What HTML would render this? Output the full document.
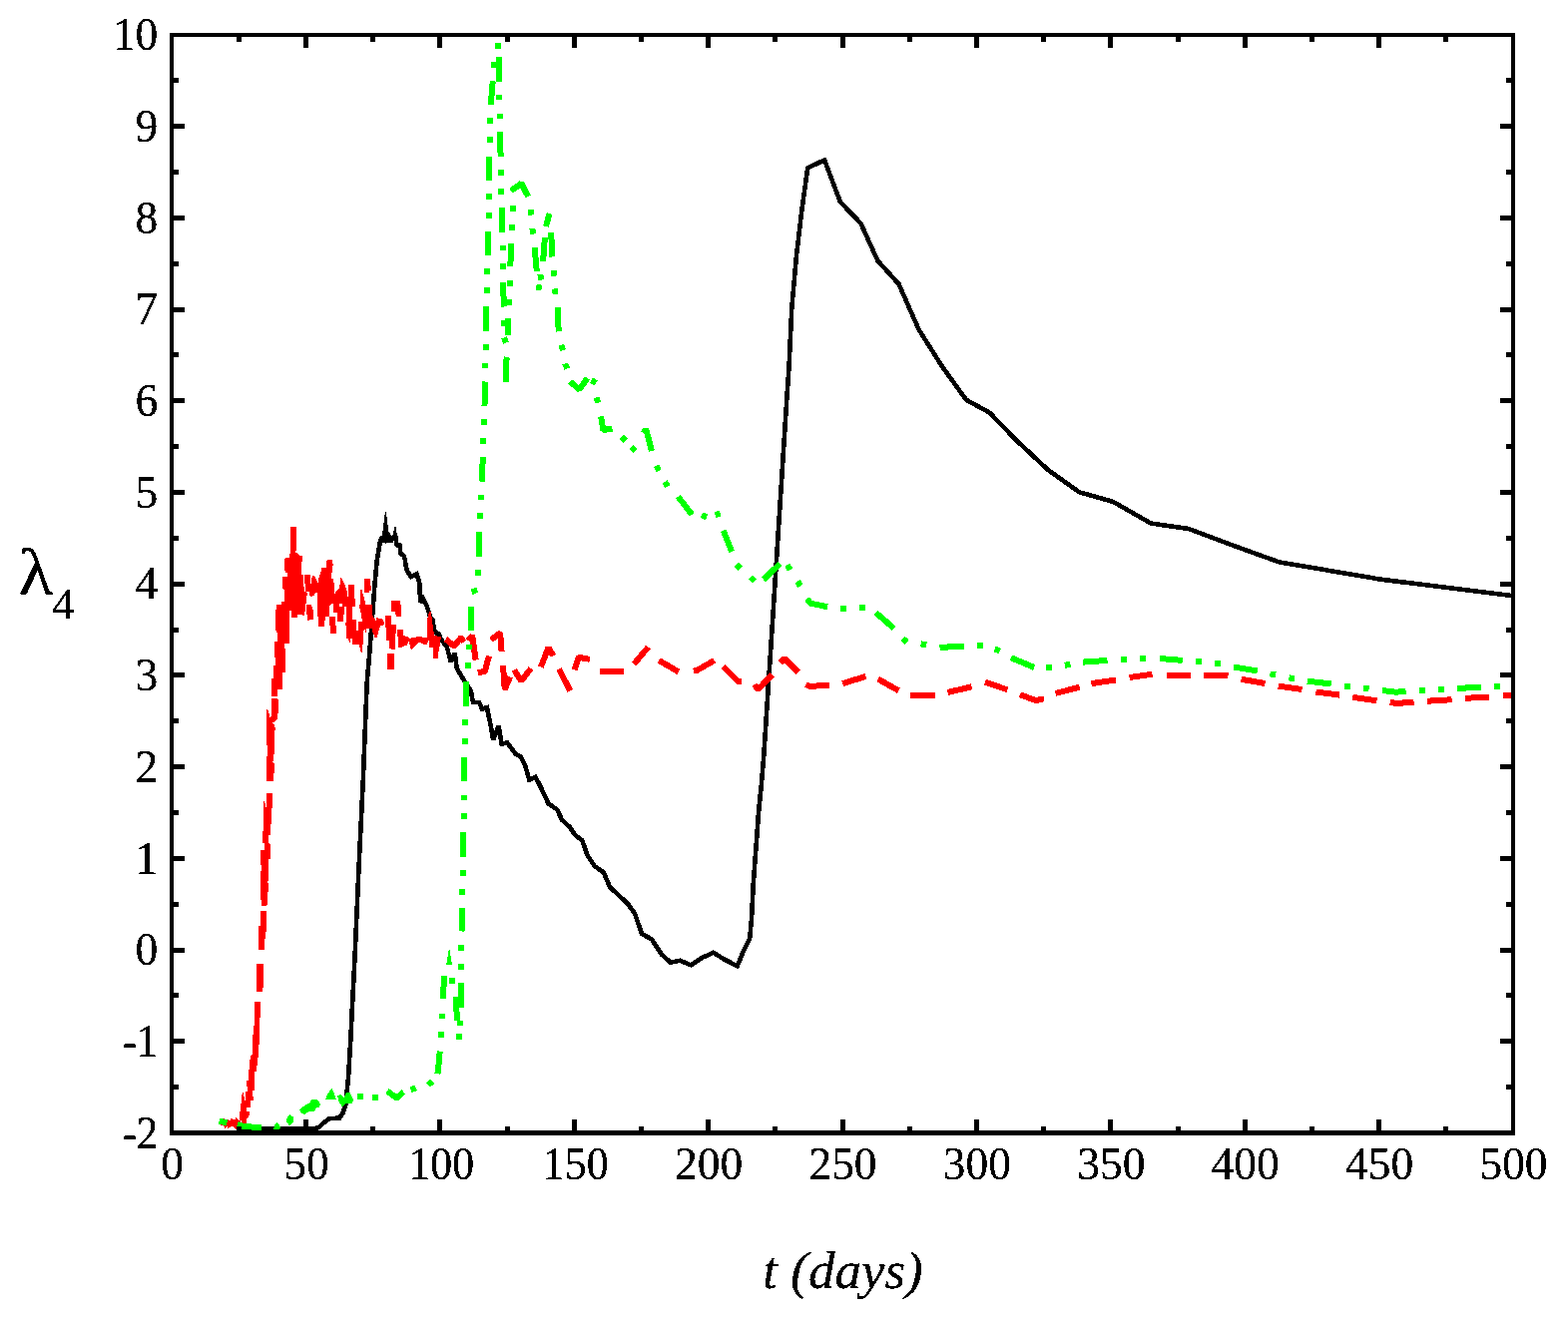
<!DOCTYPE html>
<html><head><meta charset="utf-8"><title>lambda4 vs t</title>
<style>
html,body{margin:0;padding:0;background:#fff;}
body{width:1571px;height:1321px;overflow:hidden;}
svg{display:block;}
text{font-family:"Liberation Serif","DejaVu Serif",serif;fill:#000;}
.tick{font-size:46.6px;}
</style></head><body>
<svg width="1571" height="1321" viewBox="0 0 1571 1321">
<rect x="0" y="0" width="1571" height="1321" fill="#fff"/>
<g shape-rendering="crispEdges" stroke-linejoin="miter" stroke-linecap="butt">
<polygon points="382.8,538.0 385.9,513.0 386.9,513.0 389.2,532.0 392.5,537.5" fill="#000" stroke="none"/>
<polygon points="393.0,538.0 395.6,528.0 396.6,528.0 398.4,539.0" fill="#000" stroke="none"/>
<polygon points="385.3,542.0 386.7,545.2 388.1,542.0" fill="#000" stroke="none"/>
<polygon points="389.8,542.0 391.2,545.2 392.6,542.0" fill="#000" stroke="none"/>
<polygon points="381.0,537.0 394.0,537.0 394.0,543.5 381.0,543.5" fill="#000" stroke="none"/>
<polyline points="242.0,1131.0 316.0,1131.0 320.0,1129.5 324.2,1125.4 330.2,1121.0 340.0,1120.7 343.5,1115.4 346.3,1107.0 347.7,1093.0 349.1,1079.0 351.2,1044.0 353.3,1002.0 355.4,962.0 359.5,870.0 363.8,782.0 367.7,684.0 370.3,654.0 372.0,632.0 374.0,606.0 375.6,584.0 377.5,563.7 379.5,550.9 380.6,544.0 382.0,540.3 393.0,540.3 396.6,539.5 397.2,545.8 399.5,547.1 400.8,545.0 401.2,554.0 404.9,557.6 405.8,561.1 407.1,569.4 408.7,573.2 411.9,578.0 415.4,576.4 417.6,575.4 418.9,579.6 420.2,584.0 420.8,595.5 421.6,604.0 424.0,600.0 427.5,607.0 431.2,618.4 433.4,620.9 434.4,627.3 435.3,632.4 438.2,635.2 440.1,635.6 441.4,640.0 448.0,649.0 451.5,663.0 455.7,654.6 457.8,670.0 466.2,684.0 471.8,692.4 473.9,703.6 480.2,704.3 483.0,710.6 487.9,709.2 491.4,726.0 494.2,741.5 499.5,727.5 502.6,745.7 508.2,744.3 516.6,755.5 522.2,759.0 526.4,768.0 530.3,781.6 536.5,778.9 541.2,787.7 549.4,805.4 558.3,811.6 563.0,821.8 570.7,828.8 576.1,836.8 583.2,842.2 588.6,857.4 595.7,868.1 604.7,874.4 610.9,888.7 619.0,896.7 628.8,905.6 635.9,915.5 643.1,936.0 652.9,941.4 662.8,956.6 671.7,964.6 681.5,962.8 692.2,967.3 703.0,960.1 714.6,954.8 726.2,961.9 738.7,968.2 745.0,953.0 751.2,940.5 753.0,920.8 754.8,885.1 757.5,849.3 760.1,813.6 762.8,786.8 765.1,760.0 775.5,600.0 788.3,400.0 790.6,366.0 793.3,308.7 798.1,255.1 803.4,210.4 809.2,168.4 826.1,160.4 841.9,202.4 862.4,223.8 879.4,261.3 900.5,284.6 920.5,330.1 943.5,366.6 968.0,400.7 991.5,413.6 1018.1,441.1 1049.8,470.8 1081.4,493.3 1115.1,502.9 1152.9,524.5 1190.7,530.0 1240.0,548.4 1281.3,563.3 1383.5,580.7 1516.0,597.2" fill="none" stroke="#000000" stroke-width="4.60" stroke-miterlimit="2.5"/>
<polygon points="219.0,1126.2 220.7,1123.7 223.2,1121.7 224.8,1121.3 227.3,1122.1 230.6,1122.9 231.9,1120.0 233.1,1121.7 234.8,1122.5 236.8,1120.0 238.1,1121.3 239.7,1122.9 240.1,1122.1 240.1,1114.6 241.0,1113.8 241.1,1106.4 242.2,1104.7 242.2,1098.1 243.5,1095.2 243.9,1098.1 245.1,1100.6 245.1,1103.9 245.9,1103.0 246.4,1094.4 248.0,1093.5 248.0,1089.0 247.0,1088.6 247.2,1083.2 249.3,1082.4 249.3,1072.4 250.2,1071.6 250.2,1062.5 251.7,1060.0 257.9,1060.0 257.9,1067.9 257.0,1068.3 257.0,1073.7 255.0,1074.1 255.0,1092.7 253.1,1093.1 253.1,1098.9 254.0,1099.3 254.0,1102.6 251.2,1103.0 250.9,1109.7 247.2,1110.1 247.2,1113.8 249.7,1114.2 250.1,1117.1 248.0,1120.4 247.2,1121.3 247.2,1126.6 244.7,1127.1 243.0,1125.4 241.4,1123.3 240.6,1125.4 238.9,1128.7 237.3,1129.1 236.8,1132.0 234.8,1130.4 233.1,1129.1 230.6,1129.5 228.6,1130.8 227.3,1129.1 225.7,1131.2 224.0,1128.7 221.1,1127.5" fill="#ff0000" stroke="none"/>
<polygon points="255.3,1004.1 260.9,1004.1 260.9,1018.8 260.2,1020.2 260.2,1046.8 258.8,1048.2 258.8,1060.1 251.1,1060.1 251.1,1058.0 252.5,1056.6 253.9,1030.0 254.6,1027.2" fill="#ff0000" stroke="none"/>
<polygon points="257.4,965.6 263.7,965.6 263.7,989.4 262.7,994.3 257.4,994.3 257.4,974.0" fill="#ff0000" stroke="none"/>
<polygon points="259.0,951.6 259.0,928.5 261.1,927.8 261.1,913.1 267.1,913.1 267.1,931.3 265.7,936.9 265.0,951.6" fill="#ff0000" stroke="none"/>
<polygon points="262.2,907.5 261.1,899.0 261.1,875.2 262.2,868.2 261.1,866.8 261.1,852.1 265.0,852.1 265.0,845.8 262.9,844.4 262.9,833.2 264.3,832.5 264.3,803.1 265.0,803.1 266.7,810.1 267.1,795.4 273.0,795.4 273.0,809.4 272.0,810.1 272.0,825.5 271.0,826.2 271.0,836.7 269.2,837.4 269.2,845.1 271.0,846.5 271.0,860.5 269.2,861.2 269.2,882.9 268.1,883.6 269.2,887.8 269.2,893.4 268.1,894.1 268.1,906.8 267.1,907.5" fill="#ff0000" stroke="none"/>
<polygon points="267.1,780.0 274.1,780.0 274.1,782.8 267.1,782.8" fill="#ff0000" stroke="none"/>
<polygon points="267.1,782.1 267.1,758.3 268.1,756.9 267.1,740.1 267.1,711.3 268.5,712.0 270.6,719.0 272.0,717.6 272.0,700.1 278.3,700.1 279.0,703.6 278.3,720.4 273.4,724.6 275.1,726.8 276.2,731.7 275.1,732.4 275.1,751.3 273.4,763.9 275.1,765.3 275.1,773.7 274.1,775.1 274.1,782.1" fill="#ff0000" stroke="none"/>
<polygon points="272.0,698.0 272.0,684.0 283.2,684.0 283.2,691.0 278.3,691.0 278.3,698.0" fill="#ff0000" stroke="none"/>
<polygon points="271.9,684.0 271.9,679.9 274.0,679.9 274.0,666.8 276.0,666.8 276.0,658.9 275.0,658.9 275.0,643.0 278.1,643.0 278.1,634.1 276.9,633.7 276.0,629.9 276.0,611.1 276.9,610.8 276.9,606.0 282.0,606.0 282.0,604.1 283.0,602.9 285.1,602.9 285.1,600.0 284.9,602.7 284.9,591.9 283.0,590.0 283.0,577.9 288.1,577.9 288.1,574.1 286.1,574.1 285.2,570.9 285.2,560.1 286.5,559.0 290.0,559.0 290.0,555.0 290.9,555.0 290.9,528.0 297.0,528.0 297.0,551.8 296.0,552.8 296.0,553.7 297.6,554.1 300.5,556.9 302.1,556.9 303.0,558.2 303.0,562.6 302.1,563.3 302.1,576.0 304.0,576.0 304.0,588.1 304.9,588.1 304.9,592.9 306.8,593.2 308.1,594.5 308.1,596.7 307.0,597.0 307.0,604.0 306.8,604.5 305.9,605.1 305.9,612.7 304.9,613.0 304.9,616.9 303.0,616.9 303.0,615.9 297.9,615.9 297.9,618.8 292.0,618.8 292.0,612.1 290.0,612.1 290.0,644.9 285.1,644.9 285.1,650.0 286.0,650.3 286.0,673.8 283.0,673.8 283.0,684.0" fill="#ff0000" stroke="none"/>
<polygon points="307.0,606.0 311.9,606.0 311.9,608.0 313.0,608.3 313.0,611.1 314.0,611.5 314.0,620.7 310.0,621.0 310.0,622.0 308.0,622.0 308.0,615.9 307.0,615.6" fill="#ff0000" stroke="none"/>
<polygon points="305.1,576.0 311.0,576.0 311.0,584.9 311.9,584.9 311.9,581.1 313.2,577.0 314.8,577.0 318.3,584.0 318.9,584.0 319.2,579.8 320.2,577.0 321.2,573.2 322.0,573.2 322.0,569.0 327.1,569.0 327.1,562.3 328.2,561.1 332.9,561.1 332.9,564.9 334.1,565.2 334.1,566.5 332.9,567.1 332.9,573.8 332.0,573.8 332.0,579.8 333.9,579.8 333.9,584.0 334.8,584.3 334.8,594.8 335.8,594.8 337.1,592.2 339.9,589.7 339.9,585.9 341.2,585.9 341.2,578.9 341.8,578.9 345.0,584.9 347.6,591.9 348.2,598.0 348.8,598.0 348.8,586.2 355.1,586.2 355.1,604.7 339.9,604.7 339.9,600.2 343.1,600.2 343.1,604.7 318.0,604.7 318.0,593.8 315.7,593.8 315.1,597.3 311.3,597.7 310.0,596.4 310.0,593.2 306.1,592.9 306.1,584.9 305.1,584.9" fill="#ff0000" stroke="none"/>
<polygon points="318.0,600.0 330.1,600.0 330.1,618.1 318.0,618.1" fill="#ff0000" stroke="none"/>
<polygon points="318.9,618.1 325.0,618.1 325.0,627.9 318.9,627.9" fill="#ff0000" stroke="none"/>
<polygon points="325.0,618.1 325.9,618.1 325.9,621.6 325.0,621.6" fill="#ff0000" stroke="none"/>
<polygon points="330.1,618.1 336.0,618.1 336.0,626.7 330.1,626.7" fill="#ff0000" stroke="none"/>
<polygon points="331.0,626.7 336.9,626.7 336.9,634.9 331.0,634.9" fill="#ff0000" stroke="none"/>
<polygon points="333.9,603.8 339.9,603.8 339.9,614.0 333.9,614.0" fill="#ff0000" stroke="none"/>
<polygon points="338.0,608.0 343.9,608.0 343.9,622.8 338.0,622.8" fill="#ff0000" stroke="none"/>
<polygon points="343.9,608.0 345.0,608.0 345.0,615.9 343.9,615.9" fill="#ff0000" stroke="none"/>
<polygon points="343.1,600.0 356.2,600.0 356.2,608.0 343.1,608.0" fill="#ff0000" stroke="none"/>
<polygon points="346.9,608.0 353.0,608.0 353.0,640.1 346.9,640.1" fill="#ff0000" stroke="none"/>
<polygon points="353.0,621.0 357.1,621.0 357.1,645.8 353.0,645.8" fill="#ff0000" stroke="none"/>
<polygon points="357.1,631.8 359.0,631.8 359.0,645.8 357.1,645.8" fill="#ff0000" stroke="none"/>
<polygon points="330.1,607.0 333.9,604.1 333.9,600.0 330.1,600.0" fill="#ff0000" stroke="none"/>
<polygon points="346.0,624.2 346.9,629.9 348.2,634.7 349.2,639.8 349.8,643.9 350.7,643.9 350.7,638.8 353.0,640.1 353.0,624.2" fill="#ff0000" stroke="none"/>
<polygon points="359.0,645.8 360.0,647.1 361.6,653.5 362.8,653.8 362.8,645.8" fill="#ff0000" stroke="none"/>
<polygon points="365.0,580.1 371.0,580.1 371.0,586.9 371.9,587.2 371.9,592.0 370.0,592.0 370.0,593.9 365.0,593.9" fill="#ff0000" stroke="none"/>
<polygon points="361.1,591.0 363.0,591.0 363.0,594.8 364.0,595.5 366.0,604.7 366.0,606.6 367.5,606.0 373.0,606.0 373.0,617.1 373.9,617.4 376.5,622.2 377.1,622.2 377.1,619.0 378.7,619.0 379.0,620.0 382.8,620.0 385.1,623.5 385.1,625.1 384.1,627.0 381.2,627.0 381.2,628.9 380.3,629.2 377.7,638.7 375.5,638.7 373.3,633.7 373.3,630.2 366.9,630.2 366.9,633.7 366.0,633.7 366.0,631.1 364.0,632.1 364.0,645.7 363.0,646.1 363.0,654.0 361.8,654.0 359.9,646.4 358.0,646.4 358.0,634.9 359.0,634.9 359.0,623.2 363.1,623.2 363.1,622.2 361.9,617.1 361.1,611.4 360.0,608.8 360.0,606.3 361.1,606.0" fill="#ff0000" stroke="none"/>
<polygon points="386.0,617.1 392.1,617.1 392.1,626.0 397.0,626.0 397.0,634.9 396.1,635.2 396.1,650.8 393.0,650.8 390.1,649.9 390.1,641.9 387.0,641.9 387.0,628.9 386.0,628.6" fill="#ff0000" stroke="none"/>
<polygon points="392.1,602.0 401.0,602.0 401.0,606.0 401.9,606.3 401.9,617.9 397.0,617.9 396.1,614.6 396.1,613.0 392.1,613.0" fill="#ff0000" stroke="none"/>
<polygon points="398.0,631.1 404.0,631.1 404.0,637.8 405.4,636.8 406.4,638.1 408.9,638.1 410.2,640.0 412.7,639.1 417.2,639.1 417.5,638.1 422.9,638.1 423.2,639.1 424.2,638.1 424.8,639.1 428.0,639.1 428.0,620.9 429.9,613.3 431.8,613.3 431.8,617.7 432.8,618.4 433.7,627.3 435.0,636.8 436.0,637.2 442.0,638.4 442.0,640.7 440.7,641.0 440.7,648.0 439.8,648.3 439.8,652.1 438.8,654.0 438.8,660.4 434.1,660.4 434.1,649.2 429.9,648.9 429.9,642.2 429.0,642.2 428.0,646.1 424.8,646.1 422.9,645.1 421.0,644.2 419.1,644.2 412.7,651.2 411.8,651.2 410.2,645.1 409.9,643.2 408.9,643.8 407.6,647.0 405.1,647.3 402.9,648.9 399.1,648.9 399.1,638.1 398.0,637.8" fill="#ff0000" stroke="none"/>
<polyline points="391.3,655.0 391.3,671.4" fill="none" stroke="#ff0000" stroke-width="6.50" />
<polyline points="446.6,640.6 455.0,647.6 462.0,639.2 464.8,643.4" fill="none" stroke="#ff0000" stroke-width="6.00" stroke-linejoin="bevel"/>
<polyline points="469.0,642.0 473.2,637.1 476.7,661.6" fill="none" stroke="#ff0000" stroke-width="6.00" stroke-linejoin="bevel"/>
<polyline points="478.8,674.2 485.8,672.8 490.0,657.4" fill="none" stroke="#ff0000" stroke-width="6.00" stroke-linejoin="bevel"/>
<polyline points="492.1,641.3 501.2,634.3 502.6,653.2" fill="none" stroke="#ff0000" stroke-width="6.00" stroke-linejoin="bevel"/>
<polyline points="504.0,667.2 505.7,691.0 511.0,678.4" fill="none" stroke="#ff0000" stroke-width="6.00" stroke-linejoin="bevel"/>
<polyline points="515.2,671.4 522.2,682.6 532.0,670.0" fill="none" stroke="#ff0000" stroke-width="6.00" stroke-linejoin="bevel"/>
<polyline points="541.8,668.6 549.5,649.0 554.4,657.4" fill="none" stroke="#ff0000" stroke-width="6.00" stroke-linejoin="bevel"/>
<polyline points="560.0,670.7 571.3,692.4" fill="none" stroke="#ff0000" stroke-width="6.00" stroke-linejoin="bevel"/>
<polyline points="575.5,671.4 579.7,658.8 590.9,660.9" fill="none" stroke="#ff0000" stroke-width="6.00" stroke-linejoin="bevel"/>
<polyline points="600.7,672.8 624.5,672.8" fill="none" stroke="#ff0000" stroke-width="6.00" stroke-linejoin="bevel"/>
<polyline points="635.2,665.4 649.5,648.5" fill="none" stroke="#ff0000" stroke-width="6.00" stroke-linejoin="bevel"/>
<polyline points="660.2,661.9 679.9,673.5" fill="none" stroke="#ff0000" stroke-width="6.00" stroke-linejoin="bevel"/>
<polyline points="695.0,672.6 698.6,671.7 715.6,661.9" fill="none" stroke="#ff0000" stroke-width="6.00" stroke-linejoin="bevel"/>
<polyline points="724.5,668.1 739.7,683.3 743.3,683.3" fill="none" stroke="#ff0000" stroke-width="6.00" stroke-linejoin="bevel"/>
<polyline points="755.8,686.2 759.6,690.8 773.7,676.2" fill="none" stroke="#ff0000" stroke-width="6.00" stroke-linejoin="bevel"/>
<polyline points="782.0,664.3 785.8,660.0 799.6,673.5" fill="none" stroke="#ff0000" stroke-width="6.00" stroke-linejoin="bevel"/>
<polyline points="807.6,686.0 811.2,687.8 830.9,686.9" fill="none" stroke="#ff0000" stroke-width="6.00" stroke-linejoin="bevel"/>
<polyline points="844.3,685.1 867.5,677.9" fill="none" stroke="#ff0000" stroke-width="6.00" stroke-linejoin="bevel"/>
<polyline points="879.8,680.6 900.4,692.2" fill="none" stroke="#ff0000" stroke-width="6.00" stroke-linejoin="bevel"/>
<polyline points="912.0,696.7 937.0,696.7" fill="none" stroke="#ff0000" stroke-width="6.00" stroke-linejoin="bevel"/>
<polyline points="949.5,694.0 973.6,688.3" fill="none" stroke="#ff0000" stroke-width="6.00" stroke-linejoin="bevel"/>
<polyline points="987.0,683.8 1009.4,691.3" fill="none" stroke="#ff0000" stroke-width="6.00" stroke-linejoin="bevel"/>
<polyline points="1021.9,696.2 1038.0,702.1 1046.0,700.3" fill="none" stroke="#ff0000" stroke-width="6.00" stroke-linejoin="bevel"/>
<polyline points="1057.6,694.9 1081.8,688.7" fill="none" stroke="#ff0000" stroke-width="6.00" stroke-linejoin="bevel"/>
<polyline points="1093.4,685.1 1118.0,681.5" fill="none" stroke="#ff0000" stroke-width="6.00" stroke-linejoin="bevel"/>
<polyline points="1131.5,679.0 1154.4,675.7" fill="none" stroke="#ff0000" stroke-width="6.00" stroke-linejoin="bevel"/>
<polyline points="1169.0,676.5 1193.0,676.5" fill="none" stroke="#ff0000" stroke-width="6.00" stroke-linejoin="bevel"/>
<polyline points="1206.1,676.5 1230.5,677.5" fill="none" stroke="#ff0000" stroke-width="6.00" stroke-linejoin="bevel"/>
<polyline points="1243.5,680.8 1267.6,685.0" fill="none" stroke="#ff0000" stroke-width="6.00" stroke-linejoin="bevel"/>
<polyline points="1280.7,687.6 1304.5,691.0" fill="none" stroke="#ff0000" stroke-width="6.00" stroke-linejoin="bevel"/>
<polyline points="1318.5,693.5 1342.2,696.6" fill="none" stroke="#ff0000" stroke-width="6.00" stroke-linejoin="bevel"/>
<polyline points="1355.3,698.8 1379.5,702.3" fill="none" stroke="#ff0000" stroke-width="6.00" stroke-linejoin="bevel"/>
<polyline points="1392.7,703.7 1398.8,705.0 1416.6,703.7" fill="none" stroke="#ff0000" stroke-width="6.00" stroke-linejoin="bevel"/>
<polyline points="1430.3,702.7 1454.6,701.2" fill="none" stroke="#ff0000" stroke-width="6.00" stroke-linejoin="bevel"/>
<polyline points="1468.2,699.8 1492.4,698.5" fill="none" stroke="#ff0000" stroke-width="6.00" stroke-linejoin="bevel"/>
<polyline points="1506.0,697.3 1516.0,696.8" fill="none" stroke="#ff0000" stroke-width="6.00" stroke-linejoin="bevel"/>
<polyline points="219.5,1124.0 227.5,1125.0" fill="none" stroke="#00ff00" stroke-width="6.00" stroke-linejoin="bevel"/>
<polyline points="238.0,1127.0 243.0,1128.7 262.0,1130.4" fill="none" stroke="#00ff00" stroke-width="6.00" stroke-linejoin="bevel"/>
<polyline points="388.0,1093.5 397.5,1100.5 404.4,1094.4" fill="none" stroke="#00ff00" stroke-width="6.00" stroke-linejoin="bevel"/>
<polyline points="438.4,1076.3 439.7,1065.7 440.7,1053.6" fill="none" stroke="#00ff00" stroke-width="6.00" stroke-linejoin="bevel"/>
<polyline points="443.7,1001.3 445.3,977.8" fill="none" stroke="#00ff00" stroke-width="6.00" stroke-linejoin="bevel"/>
<polyline points="456.6,999.0 458.1,1023.3" fill="none" stroke="#00ff00" stroke-width="6.00" stroke-linejoin="bevel"/>
<polyline points="461.9,1009.6 461.9,985.4" fill="none" stroke="#00ff00" stroke-width="6.00" stroke-linejoin="bevel"/>
<polyline points="463.0,910.0 462.5,933.5" fill="none" stroke="#00ff00" stroke-width="6.00" stroke-linejoin="bevel"/>
<polyline points="464.0,834.0 464.0,858.8" fill="none" stroke="#00ff00" stroke-width="6.00" stroke-linejoin="bevel"/>
<polyline points="465.0,759.0 465.0,783.0" fill="none" stroke="#00ff00" stroke-width="6.00" stroke-linejoin="bevel"/>
<polyline points="467.0,683.3 467.0,707.8" fill="none" stroke="#00ff00" stroke-width="6.00" stroke-linejoin="bevel"/>
<polyline points="471.8,608.4 471.8,632.2" fill="none" stroke="#00ff00" stroke-width="6.00" stroke-linejoin="bevel"/>
<polyline points="480.1,533.3 479.8,557.9" fill="none" stroke="#00ff00" stroke-width="6.00" stroke-linejoin="bevel"/>
<polyline points="483.8,458.1 482.8,482.6" fill="none" stroke="#00ff00" stroke-width="6.00" stroke-linejoin="bevel"/>
<polyline points="486.0,382.5 485.5,406.7" fill="none" stroke="#00ff00" stroke-width="6.00" stroke-linejoin="bevel"/>
<polyline points="487.2,307.0 487.2,332.0" fill="none" stroke="#00ff00" stroke-width="6.00" stroke-linejoin="bevel"/>
<polyline points="488.9,232.0 488.9,255.7" fill="none" stroke="#00ff00" stroke-width="6.00" stroke-linejoin="bevel"/>
<polyline points="490.0,156.6 490.0,181.0" fill="none" stroke="#00ff00" stroke-width="6.00" stroke-linejoin="bevel"/>
<polyline points="492.0,104.8 493.0,87.5 494.0,81.2" fill="none" stroke="#00ff00" stroke-width="6.00" stroke-linejoin="bevel"/>
<polyline points="499.8,57.0 499.8,81.8" fill="none" stroke="#00ff00" stroke-width="6.00" stroke-linejoin="bevel"/>
<polyline points="501.0,132.4 501.6,156.6" fill="none" stroke="#00ff00" stroke-width="6.00" stroke-linejoin="bevel"/>
<polyline points="503.0,208.0 503.0,232.7" fill="none" stroke="#00ff00" stroke-width="6.00" stroke-linejoin="bevel"/>
<polyline points="503.9,283.3 505.0,307.5" fill="none" stroke="#00ff00" stroke-width="6.00" stroke-linejoin="bevel"/>
<polyline points="508.0,358.0 506.5,365.0 506.5,382.5" fill="none" stroke="#00ff00" stroke-width="6.00" stroke-linejoin="bevel"/>
<polyline points="509.0,319.0 509.0,336.0" fill="none" stroke="#00ff00" stroke-width="6.00" stroke-linejoin="bevel"/>
<polyline points="511.3,267.2 512.2,244.2" fill="none" stroke="#00ff00" stroke-width="6.00" stroke-linejoin="bevel"/>
<polyline points="512.0,191.3 522.3,183.8 529.2,197.0" fill="none" stroke="#00ff00" stroke-width="6.00" stroke-linejoin="bevel"/>
<polyline points="535.5,247.7 537.8,271.8" fill="none" stroke="#00ff00" stroke-width="6.00" stroke-linejoin="bevel"/>
<polyline points="544.1,262.0 545.9,237.9" fill="none" stroke="#00ff00" stroke-width="6.00" stroke-linejoin="bevel"/>
<polyline points="547.0,227.0 550.5,214.0" fill="none" stroke="#00ff00" stroke-width="6.00" stroke-linejoin="bevel"/>
<polyline points="552.2,233.3 553.3,257.5" fill="none" stroke="#00ff00" stroke-width="6.00" stroke-linejoin="bevel"/>
<polyline points="558.5,308.0 559.7,332.4" fill="none" stroke="#00ff00" stroke-width="6.00" stroke-linejoin="bevel"/>
<polyline points="571.2,382.5 580.4,390.5 588.4,379.0" fill="none" stroke="#00ff00" stroke-width="6.00" stroke-linejoin="bevel"/>
<polyline points="602.1,417.4 604.4,431.0 613.5,429.5" fill="none" stroke="#00ff00" stroke-width="6.00" stroke-linejoin="bevel"/>
<polyline points="645.0,434.0 647.2,430.0 653.0,452.0" fill="none" stroke="#00ff00" stroke-width="6.00" stroke-linejoin="bevel"/>
<polyline points="679.3,497.7 693.3,515.8" fill="none" stroke="#00ff00" stroke-width="6.00" stroke-linejoin="bevel"/>
<polyline points="724.7,531.7 733.1,552.9" fill="none" stroke="#00ff00" stroke-width="6.00" stroke-linejoin="bevel"/>
<polyline points="764.9,580.9 781.5,565.0" fill="none" stroke="#00ff00" stroke-width="6.00" stroke-linejoin="bevel"/>
<polyline points="808.5,600.2 812.1,604.7 829.1,608.2" fill="none" stroke="#00ff00" stroke-width="6.00" stroke-linejoin="bevel"/>
<polyline points="877.5,614.0 895.5,629.7" fill="none" stroke="#00ff00" stroke-width="6.00" stroke-linejoin="bevel"/>
<polyline points="941.5,648.8 965.6,647.9" fill="none" stroke="#00ff00" stroke-width="6.00" stroke-linejoin="bevel"/>
<polyline points="1013.0,659.2 1036.2,669.0" fill="none" stroke="#00ff00" stroke-width="6.00" stroke-linejoin="bevel"/>
<polyline points="1085.3,663.6 1109.5,661.9" fill="none" stroke="#00ff00" stroke-width="6.00" stroke-linejoin="bevel"/>
<polyline points="1161.8,660.0 1184.7,661.9" fill="none" stroke="#00ff00" stroke-width="6.00" stroke-linejoin="bevel"/>
<polyline points="1236.0,668.5 1259.7,672.5" fill="none" stroke="#00ff00" stroke-width="6.00" stroke-linejoin="bevel"/>
<polyline points="1309.8,682.6 1333.7,685.5" fill="none" stroke="#00ff00" stroke-width="6.00" stroke-linejoin="bevel"/>
<polyline points="1385.0,692.0 1399.0,693.8 1408.6,692.6" fill="none" stroke="#00ff00" stroke-width="6.00" stroke-linejoin="bevel"/>
<polyline points="1460.0,690.0 1484.1,688.6" fill="none" stroke="#00ff00" stroke-width="6.00" stroke-linejoin="bevel"/>
<polyline points="358.2,1098.6 363.8,1098.6" fill="none" stroke="#00ff00" stroke-width="6.00" />
<polyline points="372.9,1100.0 378.5,1100.0" fill="none" stroke="#00ff00" stroke-width="6.00" />
<polyline points="411.6,1092.4 416.8,1090.4" fill="none" stroke="#00ff00" stroke-width="6.00" />
<polyline points="429.1,1087.4 433.3,1083.8" fill="none" stroke="#00ff00" stroke-width="6.00" />
<polyline points="441.8,1034.1 441.8,1039.7" fill="none" stroke="#00ff00" stroke-width="6.00" />
<polyline points="442.5,1015.5 442.5,1021.1" fill="none" stroke="#00ff00" stroke-width="6.00" />
<polyline points="452.8,980.0 452.8,985.6" fill="none" stroke="#00ff00" stroke-width="6.00" />
<polyline points="460.0,1036.4 460.0,1042.0" fill="none" stroke="#00ff00" stroke-width="6.00" />
<polyline points="460.9,1022.7 460.9,1028.3" fill="none" stroke="#00ff00" stroke-width="6.00" />
<polyline points="461.9,966.0 461.9,971.6" fill="none" stroke="#00ff00" stroke-width="6.00" />
<polyline points="461.9,947.3 461.9,952.9" fill="none" stroke="#00ff00" stroke-width="6.00" />
<polyline points="463.0,891.2 463.0,896.8" fill="none" stroke="#00ff00" stroke-width="6.00" />
<polyline points="463.6,872.2 463.6,877.8" fill="none" stroke="#00ff00" stroke-width="6.00" />
<polyline points="464.5,815.2 464.5,820.8" fill="none" stroke="#00ff00" stroke-width="6.00" />
<polyline points="465.0,796.5 465.0,802.1" fill="none" stroke="#00ff00" stroke-width="6.00" />
<polyline points="466.0,740.1 466.0,745.7" fill="none" stroke="#00ff00" stroke-width="6.00" />
<polyline points="466.0,721.2 466.0,726.8" fill="none" stroke="#00ff00" stroke-width="6.00" />
<polyline points="469.0,664.2 469.0,669.8" fill="none" stroke="#00ff00" stroke-width="6.00" />
<polyline points="469.7,645.5 469.7,651.1" fill="none" stroke="#00ff00" stroke-width="6.00" />
<polyline points="474.4,589.7 476.4,594.9" fill="none" stroke="#00ff00" stroke-width="6.00" />
<polyline points="479.0,571.1 479.0,576.7" fill="none" stroke="#00ff00" stroke-width="6.00" />
<polyline points="481.1,514.3 481.1,519.9" fill="none" stroke="#00ff00" stroke-width="6.00" />
<polyline points="481.9,495.8 481.9,501.4" fill="none" stroke="#00ff00" stroke-width="6.00" />
<polyline points="484.1,439.2 484.1,444.8" fill="none" stroke="#00ff00" stroke-width="6.00" />
<polyline points="485.1,420.2 485.1,425.8" fill="none" stroke="#00ff00" stroke-width="6.00" />
<polyline points="486.0,363.6 486.0,369.2" fill="none" stroke="#00ff00" stroke-width="6.00" />
<polyline points="487.2,345.2 487.2,350.8" fill="none" stroke="#00ff00" stroke-width="6.00" />
<polyline points="488.0,288.0 488.0,293.6" fill="none" stroke="#00ff00" stroke-width="6.00" />
<polyline points="488.0,269.0 488.0,274.6" fill="none" stroke="#00ff00" stroke-width="6.00" />
<polyline points="489.5,213.2 489.5,218.8" fill="none" stroke="#00ff00" stroke-width="6.00" />
<polyline points="490.0,194.2 490.0,199.8" fill="none" stroke="#00ff00" stroke-width="6.00" />
<polyline points="490.9,137.1 490.9,142.7" fill="none" stroke="#00ff00" stroke-width="6.00" />
<polyline points="491.4,118.1 491.4,123.7" fill="none" stroke="#00ff00" stroke-width="6.00" />
<polyline points="495.0,62.2 495.0,67.8" fill="none" stroke="#00ff00" stroke-width="6.00" />
<polyline points="498.9,43.3 498.9,48.9" fill="none" stroke="#00ff00" stroke-width="6.00" />
<polyline points="500.4,94.7 500.4,100.3" fill="none" stroke="#00ff00" stroke-width="6.00" />
<polyline points="501.0,113.7 501.0,119.3" fill="none" stroke="#00ff00" stroke-width="6.00" />
<polyline points="501.9,170.1 501.9,175.7" fill="none" stroke="#00ff00" stroke-width="6.00" />
<polyline points="502.1,189.1 502.1,194.7" fill="none" stroke="#00ff00" stroke-width="6.00" />
<polyline points="503.5,245.7 503.5,251.3" fill="none" stroke="#00ff00" stroke-width="6.00" />
<polyline points="503.9,264.1 503.9,269.7" fill="none" stroke="#00ff00" stroke-width="6.00" />
<polyline points="504.5,321.2 504.5,326.8" fill="none" stroke="#00ff00" stroke-width="6.00" />
<polyline points="505.0,338.4 507.0,343.6" fill="none" stroke="#00ff00" stroke-width="6.00" />
<polyline points="510.2,300.2 510.2,305.8" fill="none" stroke="#00ff00" stroke-width="6.00" />
<polyline points="511.0,281.2 511.0,286.8" fill="none" stroke="#00ff00" stroke-width="6.00" />
<polyline points="513.0,225.1 513.0,230.7" fill="none" stroke="#00ff00" stroke-width="6.00" />
<polyline points="514.0,206.1 514.0,211.7" fill="none" stroke="#00ff00" stroke-width="6.00" />
<polyline points="531.5,210.0 532.5,215.6" fill="none" stroke="#00ff00" stroke-width="6.00" />
<polyline points="533.3,229.0 534.3,234.6" fill="none" stroke="#00ff00" stroke-width="6.00" />
<polyline points="539.4,285.2 540.4,290.8" fill="none" stroke="#00ff00" stroke-width="6.00" />
<polyline points="541.3,275.0 542.3,280.6" fill="none" stroke="#00ff00" stroke-width="6.00" />
<polyline points="554.5,271.1 555.5,276.7" fill="none" stroke="#00ff00" stroke-width="6.00" />
<polyline points="555.7,289.4 556.7,295.0" fill="none" stroke="#00ff00" stroke-width="6.00" />
<polyline points="562.1,345.9 564.1,351.1" fill="none" stroke="#00ff00" stroke-width="6.00" />
<polyline points="566.2,364.4 568.2,369.6" fill="none" stroke="#00ff00" stroke-width="6.00" />
<polyline points="592.4,381.1 597.2,383.9" fill="none" stroke="#00ff00" stroke-width="6.00" />
<polyline points="597.4,398.4 599.4,403.6" fill="none" stroke="#00ff00" stroke-width="6.00" />
<polyline points="622.5,437.7 626.5,441.7" fill="none" stroke="#00ff00" stroke-width="6.00" />
<polyline points="632.4,447.7 636.4,451.7" fill="none" stroke="#00ff00" stroke-width="6.00" />
<polyline points="657.5,466.9 660.3,471.7" fill="none" stroke="#00ff00" stroke-width="6.00" />
<polyline points="666.1,482.8 668.9,487.6" fill="none" stroke="#00ff00" stroke-width="6.00" />
<polyline points="702.9,516.3 708.1,518.3" fill="none" stroke="#00ff00" stroke-width="6.00" />
<polyline points="716.5,516.4 721.7,514.4" fill="none" stroke="#00ff00" stroke-width="6.00" />
<polyline points="737.9,566.1 741.9,570.1" fill="none" stroke="#00ff00" stroke-width="6.00" />
<polyline points="752.0,578.6 756.0,582.6" fill="none" stroke="#00ff00" stroke-width="6.00" />
<polyline points="788.8,566.3 791.6,571.1" fill="none" stroke="#00ff00" stroke-width="6.00" />
<polyline points="799.1,582.6 801.9,587.4" fill="none" stroke="#00ff00" stroke-width="6.00" />
<polyline points="842.0,609.7 847.6,609.7" fill="none" stroke="#00ff00" stroke-width="6.00" />
<polyline points="861.1,608.8 866.7,608.8" fill="none" stroke="#00ff00" stroke-width="6.00" />
<polyline points="904.5,640.0 908.7,643.6" fill="none" stroke="#00ff00" stroke-width="6.00" />
<polyline points="922.6,645.3 928.2,646.3" fill="none" stroke="#00ff00" stroke-width="6.00" />
<polyline points="978.9,647.0 984.5,647.0" fill="none" stroke="#00ff00" stroke-width="6.00" />
<polyline points="996.6,650.5 1001.8,652.5" fill="none" stroke="#00ff00" stroke-width="6.00" />
<polyline points="1048.0,669.0 1053.6,669.0" fill="none" stroke="#00ff00" stroke-width="6.00" />
<polyline points="1066.8,666.8 1072.4,665.8" fill="none" stroke="#00ff00" stroke-width="6.00" />
<polyline points="1123.0,660.8 1128.6,660.8" fill="none" stroke="#00ff00" stroke-width="6.00" />
<polyline points="1142.2,660.0 1147.8,660.0" fill="none" stroke="#00ff00" stroke-width="6.00" />
<polyline points="1198.1,663.4 1203.7,663.4" fill="none" stroke="#00ff00" stroke-width="6.00" />
<polyline points="1217.2,665.2 1222.8,665.2" fill="none" stroke="#00ff00" stroke-width="6.00" />
<polyline points="1272.5,675.4 1278.1,676.4" fill="none" stroke="#00ff00" stroke-width="6.00" />
<polyline points="1291.4,679.3 1297.0,680.3" fill="none" stroke="#00ff00" stroke-width="6.00" />
<polyline points="1347.2,687.6 1352.8,688.0" fill="none" stroke="#00ff00" stroke-width="6.00" />
<polyline points="1366.0,689.7 1371.6,690.1" fill="none" stroke="#00ff00" stroke-width="6.00" />
<polyline points="1422.1,691.7 1427.7,691.7" fill="none" stroke="#00ff00" stroke-width="6.00" />
<polyline points="1441.2,690.8 1446.8,690.8" fill="none" stroke="#00ff00" stroke-width="6.00" />
<polyline points="1497.3,687.5 1502.9,687.5" fill="none" stroke="#00ff00" stroke-width="6.00" />
<polygon points="447.3,966.5 449.7,952.0 450.5,952.0 452.9,966.5" fill="#00ff00" stroke="none"/>
<polygon points="274.1,1132.0 275.3,1127.1 277.8,1125.0 279.1,1126.2 281.1,1129.5 280.7,1131.2 277.8,1132.0" fill="#00ff00" stroke="none"/>
<polygon points="286.9,1122.1 289.0,1117.9 290.2,1117.1 291.9,1118.8 294.0,1119.6 294.0,1124.6 291.9,1127.1 290.2,1128.7 288.6,1126.2 286.9,1124.6" fill="#00ff00" stroke="none"/>
<polygon points="300.2,1112.6 302.6,1109.7 306.8,1107.2 310.1,1105.5 311.8,1102.2 317.5,1102.2 319.6,1103.9 320.9,1106.8 319.6,1109.7 317.1,1110.5 314.7,1113.8 310.1,1113.8 306.8,1115.9 305.1,1117.1 302.2,1115.5" fill="#00ff00" stroke="none"/>
<polygon points="326.1,1101.7 328.2,1096.6 332.4,1090.3 334.5,1094.5 336.6,1101.7" fill="#00ff00" stroke="none"/>
<polygon points="338.0,1098.7 341.5,1096.6 344.3,1100.1 347.1,1095.2 350.6,1094.5 354.1,1102.9 352.7,1106.4 345.7,1106.4 342.9,1109.2 340.1,1105.7" fill="#00ff00" stroke="none"/>
</g>
<g shape-rendering="crispEdges" fill="#000" stroke="none" class="fr0">
<rect x="170" y="33" width="1348" height="4"/>
<rect x="170" y="1133" width="1348" height="5"/>
<rect x="170" y="33" width="4" height="1105"/>
<rect x="1514" y="33" width="4" height="1105"/>
<rect x="237" y="37" width="5" height="5"/>
<rect x="237" y="1129" width="5" height="4"/>
<rect x="304" y="37" width="5" height="11"/>
<rect x="304" y="1122" width="5" height="11"/>
<rect x="371" y="37" width="5" height="5"/>
<rect x="371" y="1129" width="5" height="4"/>
<rect x="438" y="37" width="5" height="11"/>
<rect x="438" y="1122" width="5" height="11"/>
<rect x="506" y="37" width="5" height="5"/>
<rect x="506" y="1129" width="5" height="4"/>
<rect x="573" y="37" width="5" height="11"/>
<rect x="573" y="1122" width="5" height="11"/>
<rect x="640" y="37" width="5" height="5"/>
<rect x="640" y="1129" width="5" height="4"/>
<rect x="707" y="37" width="5" height="11"/>
<rect x="707" y="1122" width="5" height="11"/>
<rect x="774" y="37" width="5" height="5"/>
<rect x="774" y="1129" width="5" height="4"/>
<rect x="842" y="37" width="5" height="11"/>
<rect x="842" y="1122" width="5" height="11"/>
<rect x="909" y="37" width="5" height="5"/>
<rect x="909" y="1129" width="5" height="4"/>
<rect x="976" y="37" width="5" height="11"/>
<rect x="976" y="1122" width="5" height="11"/>
<rect x="1043" y="37" width="5" height="5"/>
<rect x="1043" y="1129" width="5" height="4"/>
<rect x="1110" y="37" width="5" height="11"/>
<rect x="1110" y="1122" width="5" height="11"/>
<rect x="1178" y="37" width="5" height="5"/>
<rect x="1178" y="1129" width="5" height="4"/>
<rect x="1245" y="37" width="5" height="11"/>
<rect x="1245" y="1122" width="5" height="11"/>
<rect x="1312" y="37" width="5" height="5"/>
<rect x="1312" y="1129" width="5" height="4"/>
<rect x="1379" y="37" width="5" height="11"/>
<rect x="1379" y="1122" width="5" height="11"/>
<rect x="1446" y="37" width="5" height="5"/>
<rect x="1446" y="1129" width="5" height="4"/>
<rect x="174" y="1087" width="5" height="5"/>
<rect x="1509" y="1087" width="5" height="5"/>
<rect x="174" y="1041" width="11" height="5"/>
<rect x="1503" y="1041" width="11" height="5"/>
<rect x="174" y="995" width="5" height="5"/>
<rect x="1509" y="995" width="5" height="5"/>
<rect x="174" y="950" width="11" height="5"/>
<rect x="1503" y="950" width="11" height="5"/>
<rect x="174" y="904" width="5" height="5"/>
<rect x="1509" y="904" width="5" height="5"/>
<rect x="174" y="858" width="11" height="5"/>
<rect x="1503" y="858" width="11" height="5"/>
<rect x="174" y="812" width="5" height="5"/>
<rect x="1509" y="812" width="5" height="5"/>
<rect x="174" y="766" width="11" height="5"/>
<rect x="1503" y="766" width="11" height="5"/>
<rect x="174" y="720" width="5" height="5"/>
<rect x="1509" y="720" width="5" height="5"/>
<rect x="174" y="674" width="11" height="5"/>
<rect x="1503" y="674" width="11" height="5"/>
<rect x="174" y="629" width="5" height="5"/>
<rect x="1509" y="629" width="5" height="5"/>
<rect x="174" y="583" width="11" height="5"/>
<rect x="1503" y="583" width="11" height="5"/>
<rect x="174" y="537" width="5" height="5"/>
<rect x="1509" y="537" width="5" height="5"/>
<rect x="174" y="491" width="11" height="5"/>
<rect x="1503" y="491" width="11" height="5"/>
<rect x="174" y="445" width="5" height="5"/>
<rect x="1509" y="445" width="5" height="5"/>
<rect x="174" y="399" width="11" height="5"/>
<rect x="1503" y="399" width="11" height="5"/>
<rect x="174" y="353" width="5" height="5"/>
<rect x="1509" y="353" width="5" height="5"/>
<rect x="174" y="308" width="11" height="5"/>
<rect x="1503" y="308" width="11" height="5"/>
<rect x="174" y="262" width="5" height="5"/>
<rect x="1509" y="262" width="5" height="5"/>
<rect x="174" y="216" width="11" height="5"/>
<rect x="1503" y="216" width="11" height="5"/>
<rect x="174" y="170" width="5" height="5"/>
<rect x="1509" y="170" width="5" height="5"/>
<rect x="174" y="124" width="11" height="5"/>
<rect x="1503" y="124" width="11" height="5"/>
<rect x="174" y="78" width="5" height="5"/>
<rect x="1509" y="78" width="5" height="5"/>
</g>
<defs><filter id="th" x="-5%" y="-5%" width="110%" height="110%" color-interpolation-filters="sRGB"><feComponentTransfer><feFuncA type="discrete" tableValues="0 1 1"/></feComponentTransfer></filter></defs>
<g filter="url(#th)">
<g class="tick">
<text transform="translate(172.5,1181.5) scale(0.975,1)" text-anchor="middle" font-size="46.6">0</text>
<text transform="translate(306.9,1181.5) scale(0.975,1)" text-anchor="middle" font-size="46.6">50</text>
<text transform="translate(442.3,1181.5) scale(0.941,1)" text-anchor="middle" font-size="46.6">100</text>
<text transform="translate(576.7,1181.5) scale(0.941,1)" text-anchor="middle" font-size="46.6">150</text>
<text transform="translate(710.1,1181.5) scale(0.975,1)" text-anchor="middle" font-size="46.6">200</text>
<text transform="translate(844.5,1181.5) scale(0.975,1)" text-anchor="middle" font-size="46.6">250</text>
<text transform="translate(978.9,1181.5) scale(0.975,1)" text-anchor="middle" font-size="46.6">300</text>
<text transform="translate(1113.3,1181.5) scale(0.975,1)" text-anchor="middle" font-size="46.6">350</text>
<text transform="translate(1247.7,1181.5) scale(0.975,1)" text-anchor="middle" font-size="46.6">400</text>
<text transform="translate(1382.1,1181.5) scale(0.975,1)" text-anchor="middle" font-size="46.6">450</text>
<text transform="translate(1516.5,1181.5) scale(0.975,1)" text-anchor="middle" font-size="46.6">500</text>
<text transform="translate(158.2,1150.6) scale(0.916,1)" text-anchor="end" font-size="46.6">-2</text>
<text transform="translate(158.2,1058.9) scale(0.916,1)" text-anchor="end" font-size="46.6">-1</text>
<text transform="translate(158.2,967.2) scale(0.975,1)" text-anchor="end" font-size="46.6">0</text>
<text transform="translate(158.2,875.5) scale(0.975,1)" text-anchor="end" font-size="46.6">1</text>
<text transform="translate(158.2,783.8) scale(0.975,1)" text-anchor="end" font-size="46.6">2</text>
<text transform="translate(158.2,692.1) scale(0.975,1)" text-anchor="end" font-size="46.6">3</text>
<text transform="translate(158.2,600.4) scale(0.975,1)" text-anchor="end" font-size="46.6">4</text>
<text transform="translate(158.2,508.6) scale(0.975,1)" text-anchor="end" font-size="46.6">5</text>
<text transform="translate(158.2,416.9) scale(0.975,1)" text-anchor="end" font-size="46.6">6</text>
<text transform="translate(158.2,325.2) scale(0.975,1)" text-anchor="end" font-size="46.6">7</text>
<text transform="translate(158.2,233.5) scale(0.975,1)" text-anchor="end" font-size="46.6">8</text>
<text transform="translate(158.2,141.8) scale(0.975,1)" text-anchor="end" font-size="46.6">9</text>
<text transform="translate(158.2,50.1) scale(0.975,1)" text-anchor="end" font-size="46.6">10</text>
</g>
<text transform="translate(844.5,1291.0) scale(1.020,1)" text-anchor="middle" font-size="52" font-style="italic">t (days)</text>
<text transform="translate(18.5,595.4) scale(1.080,1)" text-anchor="start" font-size="66">&#955;</text>
<text transform="translate(52.3,620.0) scale(0.980,1)" text-anchor="start" font-size="45">4</text>
</g>
</svg>
</body></html>
